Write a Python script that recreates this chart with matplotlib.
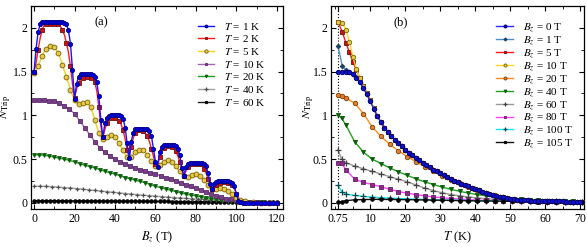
#!/usr/bin/env python
"""triplet number versus field and temperature, two panels"""
import numpy as np
import matplotlib
matplotlib.use('Agg')
from matplotlib import pyplot as plt
from matplotlib.ticker import MultipleLocator, FuncFormatter

plt.rcParams['font.family'] = 'serif'
plt.rcParams['font.serif'] = ['Liberation Serif', 'DejaVu Serif']
plt.rcParams['mathtext.fontset'] = 'stix'
plt.rcParams['font.size'] = 8.5

# ---- panel (a): N_Trip vs B_z at fixed T ----
B_fine = list(range(0, 105)) + list(range(106, 121, 2))
N_T1 = [1.50, 1.76, 1.95, 2.04, 2.07, 2.07, 2.07, 2.07, 2.07, 2.07,
        2.07, 2.07, 2.07, 2.07, 2.07, 2.06, 2.04, 1.97, 1.82, 1.52,
        1.19, 1.36, 1.44, 1.47, 1.47, 1.47, 1.47, 1.47, 1.47, 1.46,
        1.44, 1.38, 1.22, 0.95, 0.75, 0.91, 0.97, 0.99, 1.00, 1.00,
        1.00, 1.00, 1.00, 0.99, 0.96, 0.86, 0.68, 0.51, 0.70, 0.80,
        0.84, 0.85, 0.85, 0.85, 0.85, 0.85, 0.84, 0.82, 0.76, 0.62,
        0.47, 0.41, 0.58, 0.64, 0.66, 0.66, 0.66, 0.66, 0.66, 0.66,
        0.65, 0.62, 0.55, 0.40, 0.31, 0.41, 0.45, 0.46, 0.46, 0.46,
        0.46, 0.46, 0.46, 0.46, 0.45, 0.42, 0.34, 0.22, 0.16, 0.22,
        0.24, 0.245, 0.245, 0.245, 0.245, 0.245, 0.245, 0.24, 0.23, 0.19,
        0.10, 0.02, 0.005, 0.003, 0.002,
        0.002, 0.001, 0.001, 0.001, 0.001, 0.001, 0.001, 0.001]
N_T2 = [1.50, 1.60, 1.75, 1.88, 1.98, 2.03, 2.05, 2.05, 2.05, 2.05,
        2.05, 2.05, 2.04, 2.02, 1.98, 1.92, 1.83, 1.72, 1.56, 1.36,
        1.20, 1.30, 1.37, 1.41, 1.43, 1.44, 1.44, 1.44, 1.43, 1.42,
        1.38, 1.28, 1.10, 0.88, 0.75, 0.84, 0.91, 0.95, 0.97, 0.97,
        0.97, 0.96, 0.94, 0.90, 0.83, 0.73, 0.61, 0.52, 0.64, 0.74,
        0.80, 0.82, 0.83, 0.83, 0.82, 0.80, 0.76, 0.70, 0.62, 0.53,
        0.45, 0.41, 0.52, 0.59, 0.63, 0.64, 0.65, 0.65, 0.64, 0.62,
        0.59, 0.54, 0.47, 0.38, 0.31, 0.36, 0.41, 0.43, 0.44, 0.45,
        0.45, 0.45, 0.44, 0.42, 0.39, 0.34, 0.27, 0.20, 0.16, 0.19,
        0.21, 0.225, 0.23, 0.235, 0.235, 0.235, 0.23, 0.22, 0.20, 0.16,
        0.10, 0.03, 0.01, 0.005, 0.003,
        0.002, 0.001, 0.001, 0.001, 0.001, 0.001, 0.001, 0.001]
N_T5 = [1.48, 1.51, 1.56, 1.62, 1.68, 1.73, 1.76, 1.78, 1.79, 1.79,
        1.78, 1.75, 1.71, 1.65, 1.58, 1.51, 1.44, 1.37, 1.29, 1.23,
        1.18, 1.15, 1.13, 1.13, 1.14, 1.15, 1.15, 1.13, 1.09, 1.03,
        0.95, 0.87, 0.80, 0.75, 0.73, 0.73, 0.75, 0.77, 0.78, 0.77,
        0.75, 0.72, 0.68, 0.64, 0.60, 0.56, 0.53, 0.52, 0.53, 0.55,
        0.58, 0.60, 0.61, 0.61, 0.60, 0.58, 0.55, 0.51, 0.48, 0.45,
        0.42, 0.41, 0.43, 0.45, 0.47, 0.48, 0.49, 0.48, 0.47, 0.45,
        0.42, 0.39, 0.36, 0.33, 0.31, 0.30, 0.30, 0.31, 0.32, 0.325,
        0.325, 0.32, 0.31, 0.29, 0.26, 0.23, 0.20, 0.17, 0.16, 0.16,
        0.16, 0.165, 0.165, 0.165, 0.16, 0.15, 0.14, 0.12, 0.10, 0.08,
        0.06, 0.045, 0.035, 0.027, 0.02,
        0.012, 0.008, 0.005, 0.004, 0.003, 0.002, 0.002, 0.001]

B_mid = [2.5 * i for i in range(49)]
N_T10 = [1.17, 1.17, 1.17, 1.165, 1.16, 1.14, 1.11, 1.07, 1.02, 0.94,
         0.86, 0.78, 0.70, 0.63, 0.58, 0.54, 0.50, 0.47, 0.445, 0.42,
         0.40, 0.38, 0.36, 0.345, 0.33, 0.31, 0.29, 0.27, 0.25, 0.23,
         0.21, 0.19, 0.17, 0.145, 0.12, 0.10, 0.08, 0.065, 0.05, 0.04,
         0.03, 0.02, 0.012, 0.008, 0.005, 0.004, 0.003, 0.002, 0.002]
N_T20 = [0.55, 0.55, 0.545, 0.535, 0.525, 0.51, 0.50, 0.485, 0.47, 0.45,
         0.43, 0.415, 0.40, 0.38, 0.36, 0.345, 0.33, 0.31, 0.29, 0.275,
         0.26, 0.245, 0.23, 0.21, 0.19, 0.175, 0.16, 0.145, 0.13, 0.115,
         0.10, 0.09, 0.08, 0.07, 0.06, 0.05, 0.042, 0.035, 0.029, 0.024,
         0.02, 0.015, 0.011, 0.008, 0.006, 0.005, 0.004, 0.003, 0.003]
B_40K = list(range(0, 121, 3))
N_T40 = [0.19, 0.19, 0.188, 0.185, 0.18, 0.175, 0.17, 0.163, 0.156, 0.149,
         0.142, 0.135, 0.128, 0.121, 0.114, 0.107, 0.100, 0.094, 0.088, 0.082,
         0.076, 0.071, 0.066, 0.061, 0.056, 0.051, 0.047, 0.043, 0.039, 0.035,
         0.031, 0.027, 0.024, 0.021, 0.018, 0.015, 0.013, 0.011, 0.009, 0.008,
         0.007]
B_60K = list(range(0, 121, 2))
N_T60 = [0.025, 0.025, 0.025, 0.025, 0.025, 0.024, 0.024, 0.024, 0.024, 0.023,
         0.023, 0.023, 0.023, 0.022, 0.022, 0.022, 0.021, 0.021, 0.021, 0.020,
         0.020, 0.020, 0.019, 0.019, 0.019, 0.018, 0.018, 0.018, 0.017, 0.017,
         0.017, 0.016, 0.016, 0.016, 0.015, 0.015, 0.015, 0.014, 0.014, 0.014,
         0.013, 0.013, 0.013, 0.012, 0.012, 0.012, 0.011, 0.011, 0.011, 0.010,
         0.010, 0.010, 0.009, 0.009, 0.009, 0.009, 0.008, 0.008, 0.008, 0.008,
         0.008]

# ---- panel (b): N_Trip vs T at fixed B_z ----
T_fine = [0.75] + list(range(2, 71))
N_B0 = [1.50,
        1.50, 1.50, 1.49, 1.47, 1.43, 1.38, 1.31, 1.24, 1.16,
        1.07, 0.99, 0.92, 0.86, 0.81, 0.76, 0.72, 0.68, 0.645, 0.61,
        0.575, 0.545, 0.515, 0.485, 0.455, 0.43, 0.405, 0.38, 0.36, 0.34,
        0.315, 0.295, 0.275, 0.255, 0.24, 0.22, 0.205, 0.19, 0.175, 0.16,
        0.145, 0.13, 0.117, 0.105, 0.093, 0.082, 0.072, 0.063, 0.055, 0.048,
        0.043, 0.038, 0.034, 0.031, 0.028, 0.026, 0.024, 0.022, 0.021, 0.020,
        0.019, 0.018, 0.017, 0.016, 0.016, 0.015, 0.015, 0.014, 0.014, 0.013]
N_B1 = [1.79,
        1.56, 1.52, 1.50, 1.475, 1.435, 1.385, 1.315, 1.245, 1.165,
        1.07, 0.99, 0.92, 0.86, 0.81, 0.76, 0.72, 0.68, 0.645, 0.61,
        0.575, 0.545, 0.515, 0.485, 0.455, 0.43, 0.405, 0.38, 0.36, 0.34,
        0.315, 0.295, 0.275, 0.255, 0.24, 0.22, 0.205, 0.19, 0.175, 0.16,
        0.145, 0.13, 0.117, 0.105, 0.093, 0.082, 0.072, 0.063, 0.055, 0.048,
        0.043, 0.038, 0.034, 0.031, 0.028, 0.026, 0.024, 0.022, 0.021, 0.020,
        0.019, 0.018, 0.017, 0.016, 0.016, 0.015, 0.015, 0.014, 0.014, 0.013]
N_B5 = [2.07,
        1.95, 1.83, 1.72, 1.61, 1.52, 1.43, 1.34, 1.255, 1.17,
        1.08, 0.995, 0.92, 0.86, 0.81, 0.76, 0.72, 0.68, 0.645, 0.61,
        0.575, 0.545, 0.515, 0.485, 0.455, 0.43, 0.405, 0.38, 0.36, 0.34,
        0.315, 0.295, 0.275, 0.255, 0.24, 0.22, 0.205, 0.19, 0.175, 0.16,
        0.145, 0.13, 0.117, 0.105, 0.093, 0.082, 0.072, 0.063, 0.055, 0.048,
        0.043, 0.038, 0.034, 0.031, 0.028, 0.026, 0.024, 0.022, 0.021, 0.020,
        0.019, 0.018, 0.017, 0.016, 0.016, 0.015, 0.015, 0.014, 0.014, 0.013]
N_B10 = [2.07,
         2.06, 1.98, 1.84, 1.67, 1.53, 1.43, 1.34, 1.255, 1.17,
         1.08, 0.995, 0.92, 0.86, 0.81, 0.76, 0.72, 0.68, 0.645, 0.61,
         0.575, 0.545, 0.515, 0.485, 0.455, 0.43, 0.405, 0.38, 0.36, 0.34,
         0.315, 0.295, 0.275, 0.255, 0.24, 0.22, 0.205, 0.19, 0.175, 0.16,
         0.145, 0.13, 0.117, 0.105, 0.093, 0.082, 0.072, 0.063, 0.055, 0.048,
         0.043, 0.038, 0.034, 0.031, 0.028, 0.026, 0.024, 0.022, 0.021, 0.020,
         0.019, 0.018, 0.017, 0.016, 0.016, 0.015, 0.015, 0.014, 0.014, 0.013]

T_coarse = [0.75, 1.75] + [3 + 2.5 * i for i in range(28)]
N_B20 = [1.23, 1.225, 1.20, 1.14, 1.02, 0.87, 0.76, 0.67, 0.595, 0.53,
         0.47, 0.415, 0.36, 0.31, 0.265, 0.225, 0.185, 0.15, 0.118, 0.09,
         0.068, 0.05, 0.038, 0.03, 0.025, 0.021, 0.018, 0.016, 0.015, 0.013]
N_B40 = [1.00, 0.97, 0.89, 0.70, 0.58, 0.50, 0.45, 0.40, 0.355, 0.315,
         0.275, 0.24, 0.21, 0.18, 0.155, 0.132, 0.112, 0.095, 0.08, 0.067,
         0.056, 0.047, 0.04, 0.034, 0.029, 0.025, 0.022, 0.019, 0.017, 0.015]
N_B60 = [0.61, 0.50, 0.46, 0.42, 0.39, 0.36, 0.33, 0.30, 0.27, 0.24,
         0.205, 0.17, 0.14, 0.115, 0.095, 0.08, 0.067, 0.057, 0.049, 0.042,
         0.036, 0.031, 0.027, 0.024, 0.021, 0.019, 0.017, 0.015, 0.014, 0.013]
N_B80 = [0.46, 0.455, 0.38, 0.27, 0.235, 0.21, 0.185, 0.155, 0.13, 0.11,
         0.095, 0.08, 0.068, 0.058, 0.05, 0.043, 0.037, 0.032, 0.028, 0.025,
         0.022, 0.02, 0.018, 0.016, 0.015, 0.014, 0.013, 0.012, 0.011, 0.011]
N_B100 = [0.20, 0.13, 0.10, 0.085, 0.075, 0.066, 0.06, 0.055, 0.05, 0.046,
          0.042, 0.039, 0.036, 0.033, 0.031, 0.029, 0.027, 0.025, 0.023, 0.022,
          0.02, 0.019, 0.018, 0.017, 0.016, 0.015, 0.014, 0.013, 0.013, 0.012]
N_B105 = [0.005, 0.015, 0.025, 0.035, 0.038, 0.04, 0.04, 0.039, 0.038, 0.037,
          0.035, 0.033, 0.031, 0.03, 0.028, 0.026, 0.025, 0.023, 0.022, 0.021,
          0.019, 0.018, 0.017, 0.016, 0.015, 0.015, 0.014, 0.013, 0.013, 0.012]

# (x, y, label, line colour, marker, face, edge, size, markevery)
series_a = [
    (B_fine, N_T1, '$T$ = 1 K', '#1515ff', 'o', '#0000ee', '#000080', 3.0, 1),
    (B_fine, N_T2, '$T$ = 2 K', '#ff1a1a', 's', '#d01010', '#701010', 2.8, 2),
    (B_fine, N_T5, '$T$ = 5 K', '#f2d21e', 'o', '#e6c84a', '#7a6400', 3.5, 2),
    (B_mid, N_T10, '$T$ = 10 K', '#a565b5', 's', '#7a3f8a', '#5a2a6a', 2.6, 1),
    (B_mid, N_T20, '$T$ = 20 K', '#22a022', 'v', '#0b5d0b', '#0b5d0b', 2.8, 1),
    (B_40K, N_T40, '$T$ = 40 K', '#a0a0a0', '+', '#505050', '#505050', 3.5, 1),
    (B_60K, N_T60, '$T$ = 60 K', '#202020', 'o', '#000000', '#000000', 2.6, 1),
]
series_b = [
    (T_fine, N_B0, '$B_z$ = 0 T', '#2a2aff', 'o', '#1010d0', '#000060', 3.2),
    (T_fine, N_B1, '$B_z$ = 1 T', '#4f8fcf', 'D', '#1f3f5f', '#1f3f5f', 2.4),
    (T_fine, N_B5, '$B_z$ = 5 T', '#ff1a1a', 's', '#c81010', '#701010', 2.8),
    (T_fine, N_B10, '$B_z$ = 10 T', '#ffd820', 'o', '#e6c84a', '#7a6400', 3.2),
    (T_coarse, N_B20, '$B_z$ = 20 T', '#ff8c1a', 'o', '#e08030', '#804000', 3.2),
    (T_coarse, N_B40, '$B_z$ = 40 T', '#22a022', 'v', '#0b5d0b', '#0b5d0b', 3.0),
    (T_coarse, N_B60, '$B_z$ = 60 T', '#999999', '+', '#404040', '#404040', 4.0),
    (T_coarse, N_B80, '$B_z$ = 80 T', '#ff40ff', 's', '#8a2a8a', '#602060', 2.6),
    (T_coarse, N_B100, '$B_z$ = 100 T', '#10e8f0', '+', '#104848', '#104848', 4.0),
    (T_coarse, N_B105, '$B_z$ = 105 T', '#101010', 'o', '#000000', '#000000', 2.6),
]


def style(ax, labx):
    'inward ticks on all sides and the usual y axis'
    ax.set_ylim(-0.07, 2.25)
    ax.yaxis.set_major_locator(MultipleLocator(0.5))
    ax.yaxis.set_minor_locator(MultipleLocator(0.25))
    ax.yaxis.set_major_formatter(FuncFormatter(lambda v, p: '%g' % v))
    ax.tick_params(which='both', direction='in', top=True, right=True)
    ax.tick_params(which='major', length=3.5, width=0.8)
    ax.tick_params(axis='y', which='major', pad=2.5)
    ax.tick_params(axis='x', which='major', pad=3)
    ax.tick_params(which='minor', length=2, width=0.6)
    ax.set_ylabel(r'$N_{\mathrm{Trip}}$', fontsize=8.5)
    ax.yaxis.set_label_coords(labx, 0.5)
    for s in ax.spines.values():
        s.set_linewidth(0.9)


fig = plt.figure(figsize=(5.87, 2.47), dpi=100)
ax1 = fig.add_axes([31 / 587, 38 / 247, 252 / 587, 203 / 247])
ax2 = fig.add_axes([331 / 587, 38 / 247, 253 / 587, 203 / 247])

for i, (x, y, lab, lc, mk, fc, ec, ms, me) in enumerate(series_a):
    ax1.plot(x, y, color=lc, lw=1.0, marker=mk, mfc=fc, mec=ec, ms=ms,
             mew=0.6 if mk != '+' else 0.9, markevery=me, label=lab, zorder=20 - i)
ax1.set_xlim(-1.5, 123)
ax1.xaxis.set_major_locator(MultipleLocator(20))
ax1.xaxis.set_minor_locator(MultipleLocator(10))
ax1.set_xlabel('$B_z$ (T)', fontsize=9, labelpad=3)
style(ax1, -0.072)
ax1.text(0.28, 0.92, '(a)', transform=ax1.transAxes, ha='center', va='center', fontsize=9)
ax1.legend(loc='upper right', bbox_to_anchor=(0.95, 0.95), frameon=False, fontsize=8,
           handlelength=1.5, handletextpad=0.9, labelspacing=0.15, borderaxespad=0,
           markerscale=0.7)

for i, (x, y, lab, lc, mk, fc, ec, ms) in enumerate(series_b):
    ax2.plot(x, y, color=lc, lw=1.0, marker=mk, mfc=fc, mec=ec, ms=ms,
             mew=0.6 if mk != '+' else 0.9, label=lab, zorder=5 + (i == 0) * 20)
ax2.axvline(0.75, color='k', ls=':', lw=0.8, zorder=1)
ax2.set_xlim(-1.25, 71)
ax2.set_xticks([0.75, 10, 20, 30, 40, 50, 60, 70])
ax2.set_xticklabels(['0.75', '10', '20', '30', '40', '50', '60', '70'])
ax2.xaxis.set_minor_locator(MultipleLocator(5))
ax2.set_xlabel('$T$ (K)', fontsize=9, labelpad=3)
style(ax2, -0.058)
ax2.text(0.277, 0.92, '(b)', transform=ax2.transAxes, ha='center', va='center', fontsize=9)
ax2.legend(loc='upper right', bbox_to_anchor=(0.975, 0.95), frameon=False, fontsize=8,
           handlelength=1.5, handletextpad=0.9, labelspacing=0.0, borderaxespad=0,
           markerscale=0.7)

fig.savefig('out.png', dpi=100)
